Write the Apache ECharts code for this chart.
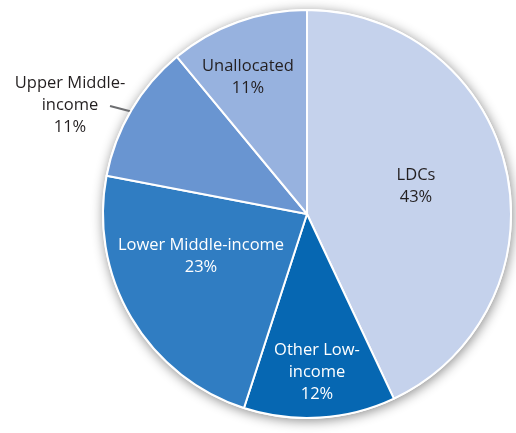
<!DOCTYPE html>
<html>
<head>
<meta charset="utf-8">
<script src="https://cdn.jsdelivr.net/npm/echarts@6/dist/echarts.min.js"></script>
<style>
  html, body { margin: 0; padding: 0; background: #ffffff; }
  #chart { width: 516px; height: 433px; }
</style>
</head>
<body>
<div id="chart"></div>
<script>
// Allocation shares by income group (percent)
const categories = ['LDCs', 'Other Low-\nincome', 'Lower Middle-income', 'Upper Middle-\nincome', 'Unallocated'];
const shares = [43, 12, 23, 11, 11];

const sliceColors = ['#c5d2ec', '#0667b2', '#307dc2', '#6995d1', '#97b2df'];
const labelColors = ['#231f20', '#ffffff', '#ffffff', '#231f20', '#231f20'];

// Label anchor points (centre of each text block) in pixels
const labelSpots = [[416, 186], [317, 372], [201, 256], [70, 105], [248, 77]];
// Leader line for the label placed outside the disc
const leaderLine = [[133, 112], [110, 106], [110, 106]];

const CENTER = [307, 214];
const RADIUS = 204;
const OUTSIDE_INDEX = 3;

const chart = echarts.init(document.getElementById('chart'), null, { renderer: 'canvas' });

chart.setOption({
  animation: false,
  backgroundColor: '#ffffff',
  series: [
    {
      // soft drop shadow behind the whole disc
      type: 'pie',
      silent: true,
      z: 1,
      center: CENTER,
      radius: RADIUS + 1,
      label: { show: false },
      labelLine: { show: false },
      itemStyle: {
        color: '#ffffff',
        shadowBlur: 12,
        shadowColor: 'rgba(0,0,0,0.45)',
        shadowOffsetX: 1,
        shadowOffsetY: 2
      },
      data: [{ value: 1 }]
    },
    {
      type: 'pie',
      z: 2,
      center: CENTER,
      radius: RADIUS,
      startAngle: 90,
      clockwise: true,
      avoidLabelOverlap: false,
      itemStyle: { borderColor: '#ffffff', borderWidth: 2 },
      label: {
        show: true,
        position: 'inside',
        formatter: p => p.name + '\n' + p.value + '%',
        fontFamily: '"Open Sans", sans-serif',
        fontSize: 16.5,
        lineHeight: 22,
        align: 'center',
        overflow: 'none'
      },
      labelLine: { show: false },
      labelLayout: params => {
        const s = labelSpots[params.dataIndex];
        const out = { x: s[0], y: s[1], align: 'center', verticalAlign: 'middle' };
        if (params.dataIndex === OUTSIDE_INDEX) out.labelLinePoints = leaderLine;
        return out;
      },
      data: categories.map((name, i) => {
        const item = {
          name: name,
          value: shares[i],
          itemStyle: { color: sliceColors[i] },
          label: { color: labelColors[i] }
        };
        if (i === OUTSIDE_INDEX) {
          item.label.position = 'outside';
          item.labelLine = {
            show: true,
            length: 24,
            length2: 0,
            lineStyle: { color: '#6d6e71', width: 2 }
          };
        }
        return item;
      })
    }
  ]
});
</script>
</body>
</html>
